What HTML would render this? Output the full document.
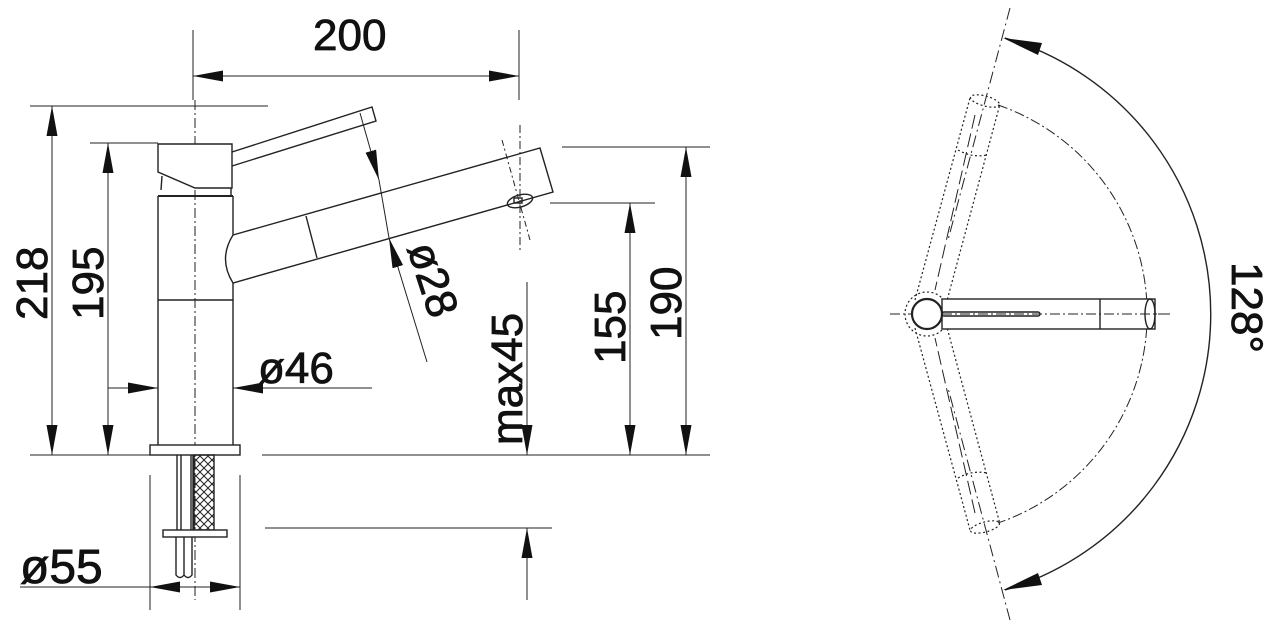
<!DOCTYPE html>
<html><head><meta charset="utf-8"><style>
html,body{margin:0;padding:0;background:#fff;}
svg{display:block;}
text{font-family:"Liberation Sans",sans-serif;font-size:44px;fill:#111;stroke:#111;stroke-width:0.8;}
</style></head><body>
<svg width="1285" height="628" viewBox="0 0 1285 628" xmlns="http://www.w3.org/2000/svg">
<defs>
<marker id="a" viewBox="0 0 30 11" refX="30" refY="5.5" markerWidth="30" markerHeight="11" markerUnits="userSpaceOnUse" orient="auto"><path d="M0,0 L30,5.5 L0,11 z" fill="#111"/></marker>
<pattern id="h" width="8" height="8" patternUnits="userSpaceOnUse"><path d="M0,0 L8,8 M8,0 L0,8" stroke="#222" stroke-width="1"/></pattern>
</defs>
<g stroke="#222" stroke-width="1.4" fill="none">
<line x1="195" y1="100" x2="195" y2="600" stroke-dasharray="10,3,2,3" stroke-width="1"/>
<path d="M158,144 L232,144 L232,188 L195,188 L158,172 Z" fill="#fff"/>
<line x1="158" y1="196" x2="233" y2="196" stroke-width="2"/>
<line x1="162" y1="176" x2="161" y2="190"/><line x1="231" y1="188" x2="231" y2="196"/>
<path d="M232,152 L372,107 L376,121 L232,166"/>
<line x1="158" y1="196" x2="158" y2="445"/>
<line x1="233" y1="196" x2="233" y2="235"/>
<line x1="233" y1="283" x2="233" y2="445"/>
<line x1="158" y1="300" x2="233" y2="300"/>
<path d="M233,235 L540,148 L553,192 L233,283 Q218,259 233,235" fill="#fff"/>
<line x1="306" y1="216" x2="317" y2="258"/>
<ellipse cx="520" cy="201" rx="13" ry="6" transform="rotate(-16 520 201)"/>
<rect x="514" y="198" width="8" height="5"/>
<line x1="520" y1="125" x2="520" y2="250" stroke-dasharray="8,3,2,3" stroke-width="1"/>
<line x1="502" y1="140" x2="530" y2="240" stroke-dasharray="6,3,2,3" stroke-width="1"/>
<rect x="150" y="445" width="90" height="10" fill="#fff"/>
<line x1="177" y1="455" x2="177" y2="530"/><line x1="181" y1="455" x2="181" y2="530"/>
<line x1="191" y1="455" x2="191" y2="530"/><line x1="193" y1="455" x2="193" y2="530"/>
<rect x="194" y="455" width="20" height="75" fill="url(#h)"/>
<rect x="163" y="530" width="64" height="7" fill="#fff"/>
<path d="M176,537 L176,575 Q180,580 184,575 L184,537 M184,575 Q188,580 192,575 L192,537"/>
<g stroke-width="1">
<line x1="193" y1="30" x2="193" y2="100"/><line x1="519" y1="30" x2="519" y2="100"/>
<line x1="356" y1="76" x2="193" y2="76" marker-end="url(#a)"/><line x1="356" y1="76" x2="519" y2="76" marker-end="url(#a)"/>
<line x1="30" y1="106" x2="268" y2="106"/>
<line x1="90" y1="143" x2="158" y2="143"/>
<line x1="30" y1="455" x2="150" y2="455"/><line x1="262" y1="455" x2="710" y2="455"/>
<line x1="52" y1="280" x2="52" y2="106" marker-end="url(#a)"/><line x1="52" y1="280" x2="52" y2="455" marker-end="url(#a)"/>
<line x1="108" y1="300" x2="108" y2="143" marker-end="url(#a)"/><line x1="108" y1="300" x2="108" y2="455" marker-end="url(#a)"/>
<line x1="108" y1="388" x2="158" y2="388" marker-end="url(#a)"/>
<line x1="372" y1="388" x2="233" y2="388" marker-end="url(#a)"/>
<line x1="360" y1="113" x2="379" y2="180" marker-end="url(#a)"/>
<line x1="427" y1="362" x2="389" y2="238" marker-end="url(#a)"/>
<line x1="379" y1="180" x2="389" y2="238"/>
<line x1="527" y1="282" x2="527" y2="455" marker-end="url(#a)"/>
<line x1="527" y1="600" x2="527" y2="528" marker-end="url(#a)"/>
<line x1="265" y1="528" x2="552" y2="528"/>
<line x1="550" y1="203" x2="655" y2="203"/>
<line x1="562" y1="147" x2="710" y2="147"/>
<line x1="630" y1="320" x2="630" y2="203" marker-end="url(#a)"/><line x1="630" y1="320" x2="630" y2="455" marker-end="url(#a)"/>
<line x1="686" y1="300" x2="686" y2="147" marker-end="url(#a)"/><line x1="686" y1="300" x2="686" y2="455" marker-end="url(#a)"/>
<line x1="150" y1="475" x2="150" y2="610"/><line x1="240" y1="475" x2="240" y2="610"/>
<line x1="20" y1="587" x2="240" y2="587"/>
<line x1="192" y1="587" x2="150" y2="587" marker-end="url(#a)"/>
<line x1="198" y1="587" x2="240" y2="587" marker-end="url(#a)"/>
</g>
<g stroke-width="1">
<line x1="890" y1="314" x2="1170" y2="314" stroke-dasharray="10,3,2,3"/>
<path d="M998,105 A221,221 0 0,1 998,523" stroke-dasharray="10,3,2,3"/>
<line x1="1010" y1="8" x2="948" y2="240" stroke-dasharray="12,4,2,4"/>
<line x1="1010" y1="620" x2="948" y2="388" stroke-dasharray="12,4,2,4"/>
<path d="M1005,38 A288,288 0 0,1 1005,590" stroke-width="1.4"/>
<g stroke-dasharray="2,2.5" stroke-width="1.2">
<path d="M915,300 L970,98 M945,308 L1000,104 M915,328 L970,530 M945,320 L1000,524"/>
<ellipse cx="985" cy="101" rx="15" ry="5" transform="rotate(15 985 101)"/>
<ellipse cx="985" cy="527" rx="15" ry="5" transform="rotate(-15 985 527)"/>
<path d="M958,150 Q972,158 987,155 M958,478 Q972,470 987,473"/>
<circle cx="927" cy="314" r="22"/>
</g>
<line x1="975" y1="115" x2="935" y2="290" stroke-dasharray="14,5"/>
<line x1="975" y1="513" x2="935" y2="338" stroke-dasharray="14,5"/>
</g>
<path d="M1003,38 L1042,43 L1038,55 Z" fill="#111" stroke="none"/>
<path d="M1003,590 L1042,585 L1038,573 Z" fill="#111" stroke="none"/>
<rect x="942" y="299" width="213" height="30" fill="#fff" stroke-width="1.4"/>
<line x1="1100" y1="299" x2="1100" y2="329"/>
<ellipse cx="1150" cy="314" rx="5" ry="15"/>
<rect x="942" y="312" width="98" height="4" rx="2"/>
<line x1="942" y1="314" x2="1170" y2="314" stroke-dasharray="10,3,2,3" stroke-width="1"/>
<circle cx="927" cy="314" r="15" fill="#fff" stroke-width="2.2"/>
</g>
<text x="313" y="50">200</text>
<text x="258" y="383">ø46</text>
<text x="20" y="583" style="font-size:48px">ø55</text>
<text transform="translate(47,320) rotate(-90)">218</text>
<text transform="translate(103,320) rotate(-90)">195</text>
<text transform="translate(625,364) rotate(-90)">155</text>
<text transform="translate(681,340) rotate(-90)">190</text>
<text transform="translate(522,445) rotate(-90)">max45</text>
<text transform="translate(407,248) rotate(72)">ø28</text>
<text transform="translate(1232,262) rotate(90)">128°</text>
</svg>
</body></html>
